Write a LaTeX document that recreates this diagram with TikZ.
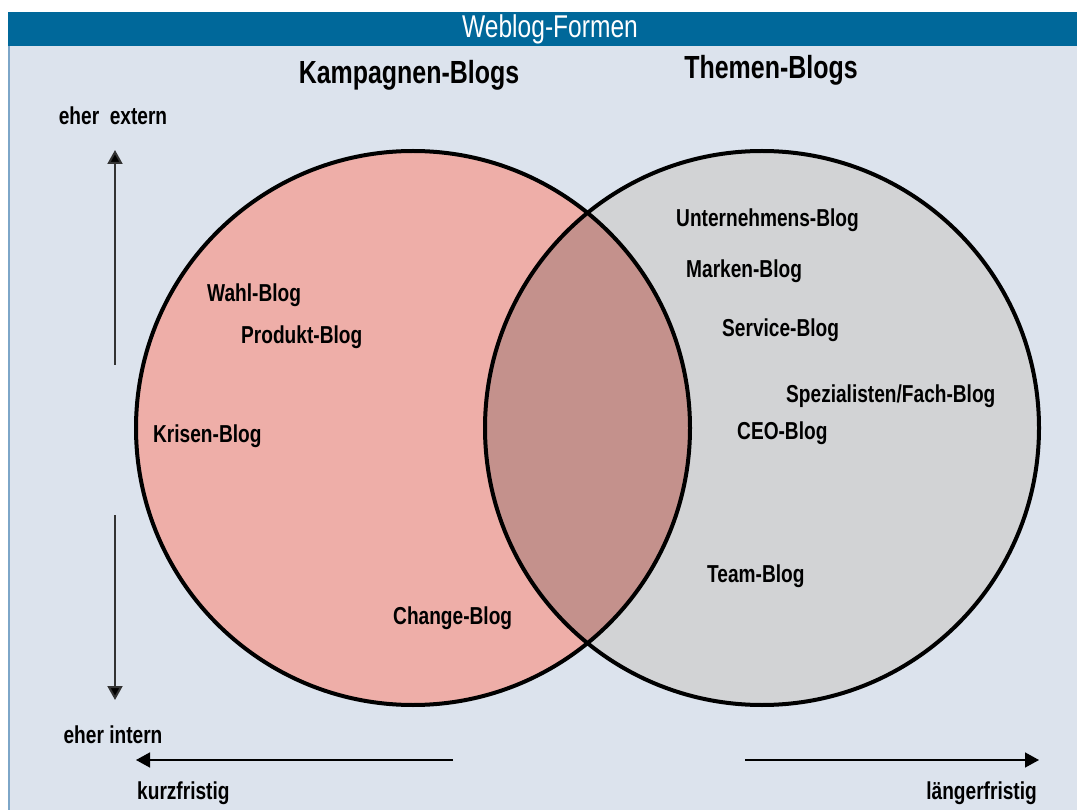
\documentclass[tikz,border=0pt]{standalone}
\usepackage{fontspec}
\setmainfont{Liberation Sans}[FakeStretch=0.78]
\usetikzlibrary{arrows.meta}
\definecolor{headblue}{HTML}{00689A}
\definecolor{panel}{HTML}{DCE3ED}
\definecolor{panelrule}{HTML}{7DA6C8}
\definecolor{campaign}{HTML}{EEAEA8}
\definecolor{topic}{HTML}{D2D3D5}
\definecolor{overlap}{HTML}{C4918C}
\definecolor{axisgray}{HTML}{333333}
\tikzset{
  blog/.style={anchor=west, inner sep=0pt, font=\fontsize{24.5}{28}\selectfont\bfseries},
  heading/.style={inner sep=0pt, font=\fontsize{32}{36}\selectfont\bfseries},
  axis/.style={draw=axisgray, line width=2pt, -{Triangle[width=15pt,length=14pt,fill=black]}},
  ring/.style={draw=black, line width=4pt}
}
\begin{document}
\begin{tikzpicture}[x=1pt,y=-1pt]
                \useasboundingbox (0,0) rectangle (1077,810);
                \fill[white] (0,0) rectangle (1077,810);
                \filldraw[fill=panel, draw=panelrule, line width=1.5pt] (9,13) rectangle (1085,820);
                \fill[headblue] (8,12) rectangle (1077,46);
                \node[inner sep=0pt, text=white, font=\fontsize{31.5}{34}\selectfont] (formen) at (550,29) {Weblog-Formen};
                % die beiden Kreise
                \coordinate (kc) at (413,428);
                \coordinate (tc) at (762,428);
                \fill[campaign] (kc) circle (277pt);
                \fill[topic] (tc) circle (277pt);
                \begin{scope}
                    \clip (kc) circle (277pt);
                    \fill[overlap] (tc) circle (277pt);
                \end{scope}
                \draw[ring] (kc) circle (277pt);
                \draw[ring] (tc) circle (277pt);
                \node[heading] (kampagnen) at (409,75) {Kampagnen-Blogs};
                \node[heading] (themen) at (771,70) {Themen-Blogs};
                % Kampagnen-Blogs
                \node[blog] (wahl) at (207,295) {Wahl-Blog};
                \node[blog] (produkt) at (241,337) {Produkt-Blog};
                \node[blog] (krisen) at (153,436) {Krisen-Blog};
                \node[blog] (change) at (393,618) {Change-Blog};
                % Themen-Blogs
                \node[blog] (unternehmen) at (676,220) {Unternehmens-Blog};
                \node[blog] (marken) at (686,271) {Marken-Blog};
                \node[blog] (service) at (722,330) {Service-Blog};
                \node[blog] (fach) at (786,396) {Spezialisten/Fach-Blog};
                \node[blog] (ceo) at (737,433) {CEO-Blog};
                \node[blog] (team) at (707,576) {Team-Blog};
                % Achsen
                \node[blog, anchor=center] (extern) at (113,116) {eher\ \ extern};
                \node[blog, anchor=center] (intern) at (113,735) {eher intern};
                \node[blog] (kurz) at (137,793) {kurzfristig};
                \node[blog, anchor=east] (lang) at (1037,793) {längerfristig};
                \coordinate (up-from) at (115,365);
                \coordinate (up-to) at (115,150);
                \coordinate (down-from) at (115,515);
                \coordinate (down-to) at (115,700);
                \coordinate (left-from) at (453,760);
                \coordinate (left-to) at (136,760);
                \coordinate (right-from) at (745,760);
                \coordinate (right-to) at (1039,760);
                \draw[axis] (up-from) -- (up-to);
                \draw[axis] (down-from) -- (down-to);
                \draw[axis, draw=black, line width=1.5pt] (left-from) -- (left-to);
                \draw[axis, draw=black, line width=1.5pt] (right-from) -- (right-to);
            \end{tikzpicture}
\end{document}
